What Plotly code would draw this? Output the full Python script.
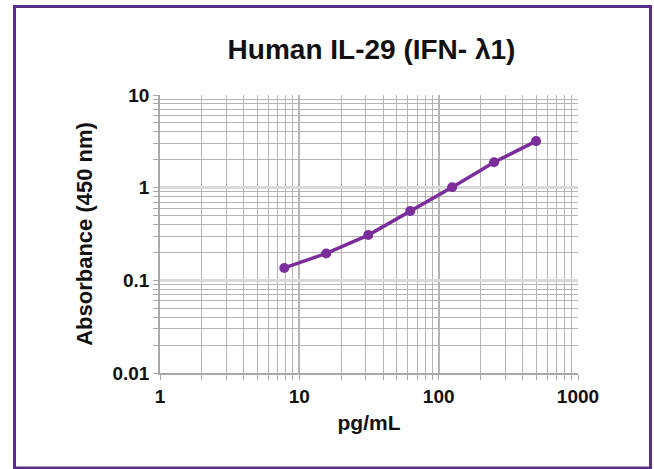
import plotly.graph_objects as go

concentration = [7.8, 15.6, 31.25, 62.5, 125, 250, 500]
absorbance = [0.136, 0.195, 0.308, 0.559, 1.01, 1.88, 3.18]

x_major = [1, 10, 100, 1000]
x_labels = ["1", "10", "100", "1000"]
y_major = [0.01, 0.1, 1, 10]
y_labels = ["0.01", "0.1", "1", "10"]

x_minor = [m * d for d in [1, 10, 100] for m in range(2, 10)]
y_minor = [m * d for d in [0.01, 0.1, 1] for m in range(2, 10)]

FONT = "Liberation Sans, Arial, sans-serif"
W, H = 654, 469
L, R, T, B = 160, 76, 95, 96
pw, ph = W - L - R, H - T - B

fig = go.Figure()
fig.add_trace(go.Scatter(
    x=concentration, y=absorbance, mode="lines+markers",
    line=dict(color="#7b2d9b", width=3.5),
    marker=dict(color="#7b2d9b", size=10),
    showlegend=False,
))

axis_common = dict(
    showline=True, linecolor="#a8a8a8", linewidth=1.5,
    ticks="outside", ticklen=5, tickcolor="#a8a8a8", tickwidth=1,
    tickfont=dict(family=FONT, size=19, color="#111", weight="bold"),
    zeroline=False,
)

fig.update_xaxes(
    type="log", range=[0, 3], tickvals=x_major, ticktext=x_labels,
    gridcolor="#b4b4b4", gridwidth=1.5,
    minor=dict(tickvals=x_minor, ticks="outside", ticklen=5, tickcolor="#a8a8a8",
               showgrid=True, gridcolor="#b4b4b4", gridwidth=1),
    title=dict(text="pg/mL", font=dict(family=FONT, size=21, color="#111", weight="bold"), standoff=10),
    **axis_common,
)
fig.update_yaxes(
    type="log", range=[-2, 1], tickvals=y_major, ticktext=y_labels,
    gridcolor="#d9d9d9", gridwidth=3,
    minor=dict(tickvals=y_minor, ticks="outside", ticklen=5, tickcolor="#a8a8a8",
               showgrid=True, gridcolor="#b4b4b4", gridwidth=1),
    title=dict(text="Absorbance (450 nm)", font=dict(family=FONT, size=22, color="#111", weight="bold"), standoff=14),
    **axis_common,
)

# outer purple frame
fig.add_shape(
    type="rect", xref="paper", yref="paper",
    x0=(14.5 - L) / pw, x1=(650.5 - L) / pw,
    y0=(H - B - 468) / ph, y1=(H - B - 6.5) / ph,
    line=dict(color="#5a2d8c", width=3), fillcolor="rgba(0,0,0,0)", layer="above",
)

fig.update_layout(
    width=W, height=H,
    margin=dict(l=L, r=R, t=T, b=B),
    paper_bgcolor="white", plot_bgcolor="white",
    title=dict(text="Human IL-29 (IFN- λ1)", x=(371.5 - L) / pw, xref="paper", xanchor="center",
               y=1 - 49 / H, yanchor="middle",
               font=dict(family=FONT, size=28, color="#111", weight="bold")),
)

fig.write_html("out.html", config={"displayModeBar": False},
               post_script="document.body.style.margin='0px';")
